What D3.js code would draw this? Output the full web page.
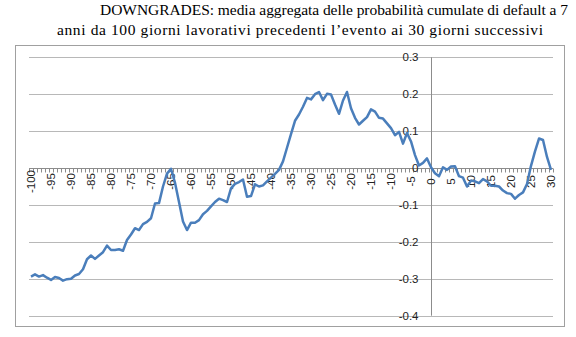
<!DOCTYPE html>
<html><head><meta charset="utf-8">
<script src="https://cdn.jsdelivr.net/npm/d3@7"></script>
<style>html,body{margin:0;padding:0;background:#fff;}svg{display:block;}</style>
</head><body>
<svg id="chart" width="576" height="337"></svg>
<script>
const titleLines = [
  "DOWNGRADES: media aggregata delle probabilità cumulate di default a 7",
  "anni da 100 giorni lavorativi precedenti l’evento ai 30 giorni successivi"
];
const days = d3.range(-100, 31);
const values = [
  -0.294,-0.288,-0.294,-0.290,-0.297,-0.303,-0.295,-0.298,-0.305,-0.301,
  -0.300,-0.291,-0.287,-0.274,-0.247,-0.237,-0.246,-0.237,-0.228,-0.210,
  -0.222,-0.222,-0.220,-0.224,-0.195,-0.180,-0.163,-0.168,-0.152,-0.146,
  -0.136,-0.096,-0.095,-0.050,-0.015,-0.002,-0.040,-0.092,-0.145,-0.168,
  -0.148,-0.148,-0.141,-0.125,-0.116,-0.104,-0.092,-0.083,-0.087,-0.092,
  -0.055,-0.043,-0.038,-0.031,-0.078,-0.076,-0.044,-0.050,-0.047,-0.036,
  -0.026,-0.016,-0.005,0.018,0.055,0.092,0.128,0.145,0.166,0.190,
  0.186,0.200,0.206,0.184,0.201,0.199,0.172,0.147,0.183,0.206,
  0.162,0.136,0.118,0.128,0.138,0.159,0.153,0.136,0.134,0.121,
  0.108,0.089,0.098,0.066,0.095,0.072,0.035,0.007,0.014,0.026,
  0.002,-0.014,-0.022,0.002,-0.005,0.004,0.005,-0.022,-0.026,-0.050,
  -0.034,-0.036,-0.041,-0.030,-0.036,-0.048,-0.048,-0.050,-0.061,-0.068,
  -0.070,-0.083,-0.073,-0.066,-0.043,0.006,0.045,0.080,0.076,0.030,
  -0.005
];
const xLabels = d3.range(-100, 31, 5);
const yTicks = [0.3, 0.2, 0.1, 0, -0.1, -0.2, -0.3, -0.4];

const svg = d3.select("#chart");

// title (justified lines)
const titlePos = [{x: 100, y: 15, w: 468}, {x: 57, y: 35, w: 486}];
svg.append("g").selectAll("text").data(titleLines).join("text")
  .attr("x", (d, i) => titlePos[i].x).attr("y", (d, i) => titlePos[i].y)
  .attr("textLength", (d, i) => titlePos[i].w).attr("lengthAdjust", "spacing")
  .attr("font-family", "Liberation Serif, Times New Roman, serif").attr("font-size", 15.5)
  .attr("fill", "#000").text(d => d);

// chart frame
svg.append("rect").attr("x", 15.5).attr("y", 45.5).attr("width", 549).attr("height", 281)
  .attr("fill", "#fff").attr("stroke", "#a0a0a0").attr("stroke-width", 1);

const x = d3.scalePoint().domain(days).range([29, 553]).padding(0.5);
const y = d3.scaleLinear().domain([-0.4, 0.3]).range([315.7, 57.3]);
const step = x.step();

// gridlines
svg.append("g").selectAll("line").data(yTicks.filter(d => d !== 0)).join("line")
  .attr("x1", 29).attr("x2", 553)
  .attr("y1", d => Math.round(y(d)) + 0.5).attr("y2", d => Math.round(y(d)) + 0.5)
  .attr("stroke", "#b8b8b8").attr("stroke-width", 1);

// y axis line at x = 0
const x0 = Math.round(x(0)) + 0.5;
svg.append("line").attr("x1", x0).attr("x2", x0).attr("y1", y(0.3)).attr("y2", y(-0.4))
  .attr("stroke", "#8c8c8c").attr("stroke-width", 1);

// x axis line
const yAxisPos = Math.round(y(0)) + 0.5;
svg.append("line").attr("x1", 29).attr("x2", 553).attr("y1", yAxisPos).attr("y2", yAxisPos)
  .attr("stroke", "#8c8c8c").attr("stroke-width", 1);

// minor ticks at category boundaries
const bounds = days.map(d => x(d) - step / 2).concat([x(days[days.length - 1]) + step / 2]);
svg.append("g").selectAll("line").data(bounds).join("line")
  .attr("x1", d => Math.round(d) + 0.5).attr("x2", d => Math.round(d) + 0.5)
  .attr("y1", yAxisPos).attr("y2", yAxisPos + 4)
  .attr("stroke", "#8c8c8c").attr("stroke-width", 1);

// y tick labels
svg.append("g").selectAll("text").data(yTicks).join("text")
  .attr("x", x0 - 13).attr("y", d => y(d)).attr("dy", "0.35em")
  .attr("text-anchor", "end")
  .attr("font-family", "Liberation Sans, Arial, sans-serif").attr("font-size", 11.5)
  .attr("fill", "#222")
  .text(d => d === 0 ? "0" : d3.format(".1f")(d).replace("−", "-"));

// x tick labels (rotated)
svg.append("g").selectAll("text").data(xLabels).join("text")
  .attr("transform", d => `translate(${x(d)},${yAxisPos + 13}) rotate(-90)`)
  .attr("text-anchor", "middle").attr("dy", "0.35em")
  .attr("font-family", "Liberation Sans, Arial, sans-serif").attr("font-size", 11.5)
  .attr("fill", "#222")
  .text(d => String(d));

// line
const line = d3.line().x((d, i) => x(days[i])).y(d => y(d));
svg.append("path").datum(values).attr("d", line)
  .attr("fill", "none").attr("stroke", "#4a7ebb").attr("stroke-width", 2.5)
  .attr("stroke-linejoin", "round");
</script>
</body></html>
